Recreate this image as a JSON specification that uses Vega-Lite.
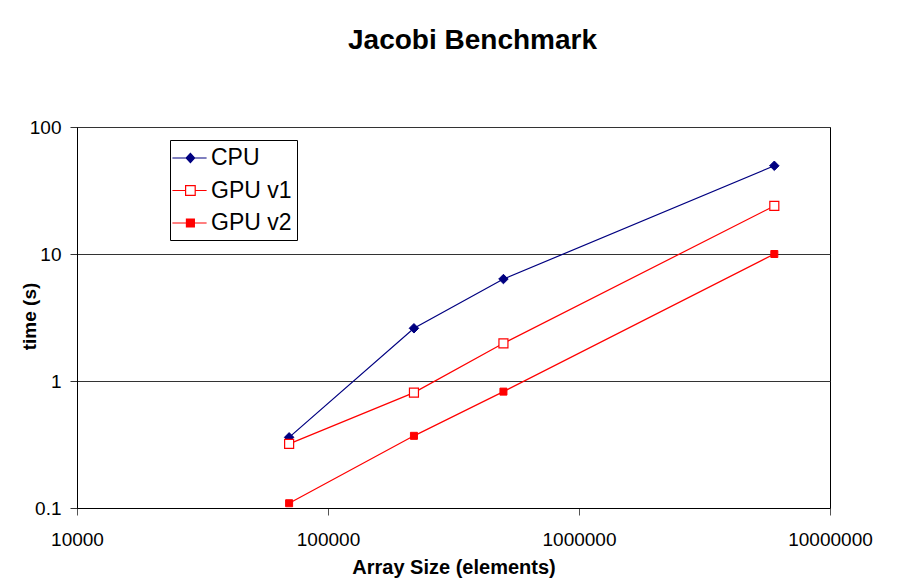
{
  "$schema": "https://vega.github.io/schema/vega-lite/v6.json",
  "width": 753,
  "height": 381,
  "autosize": {"type": "none"},
  "padding": {"left": 77, "top": 127, "right": 72, "bottom": 73},
  "background": "white",
  "title": {
    "text": "Jacobi Benchmark",
    "font": "Liberation Sans",
    "fontSize": 28,
    "fontWeight": "bold",
    "color": "black",
    "anchor": "middle",
    "frame": "group",
    "dx": 19,
    "baseline": "alphabetic",
    "offset": 41
  },
  "data": {
    "values": [
      {"series": "CPU", "size": 70000, "time": 0.36},
      {"series": "CPU", "size": 220000, "time": 2.6},
      {"series": "CPU", "size": 500000, "time": 6.35},
      {"series": "CPU", "size": 6000000, "time": 49.5},
      {"series": "GPU v1", "size": 70000, "time": 0.32},
      {"series": "GPU v1", "size": 220000, "time": 0.81},
      {"series": "GPU v1", "size": 500000, "time": 1.98},
      {"series": "GPU v1", "size": 6000000, "time": 23.9},
      {"series": "GPU v2", "size": 70000, "time": 0.109},
      {"series": "GPU v2", "size": 220000, "time": 0.37},
      {"series": "GPU v2", "size": 500000, "time": 0.825},
      {"series": "GPU v2", "size": 6000000, "time": 10.0}
    ]
  },
  "encoding": {
    "x": {
      "field": "size",
      "type": "quantitative",
      "scale": {"type": "log", "domain": [10000, 10000000], "nice": false},
      "axis": {
        "title": "Array Size (elements)",
        "values": [10000, 100000, 1000000, 10000000],
        "format": "d",
        "grid": false,
        "labelFont": "Liberation Sans",
        "labelFontSize": 19,
        "labelColor": "black",
        "labelBaseline": "alphabetic",
        "labelPadding": 30,
        "labelFlush": false,
        "labelOverlap": false,
        "tickSize": 7,
        "tickColor": "#555555",
        "domainColor": "black",
        "titleFont": "Liberation Sans",
        "titleFontSize": 20,
        "titleFontWeight": "bold",
        "titleColor": "black",
        "titleBaseline": "alphabetic",
        "titleY": 65
      }
    },
    "y": {
      "field": "time",
      "type": "quantitative",
      "scale": {"type": "log", "domain": [0.1, 100], "nice": false},
      "axis": {
        "title": "time (s)",
        "values": [0.1, 1, 10, 100],
        "format": "~g",
        "grid": true,
        "gridColor": "#333333",
        "gridWidth": 1,
        "labelFont": "Liberation Sans",
        "labelFontSize": 19,
        "labelColor": "black",
        "labelPadding": 9,
        "labelFlush": false,
        "labelOverlap": false,
        "tickSize": 7,
        "tickColor": "#333333",
        "domainColor": "black",
        "titleFont": "Liberation Sans",
        "titleFontSize": 19,
        "titleFontWeight": "bold",
        "titleColor": "black",
        "titleAngle": -90,
        "titleAlign": "center",
        "titleBaseline": "alphabetic",
        "titleX": -42,
        "titleY": 189
      }
    }
  },
  "layer": [
    {
      "mark": {"type": "line", "strokeWidth": 1.2},
      "encoding": {
        "color": {
          "field": "series",
          "type": "nominal",
          "scale": {"domain": ["CPU", "GPU v1", "GPU v2"], "range": ["#000080", "#FF0000", "#FF0000"]},
          "legend": {
            "title": null,
            "orient": "none",
            "legendX": 93,
            "legendY": 13,
            "padding": 5,
            "strokeColor": "black",
            "fillColor": "white",
            "symbolSize": 576,
            "symbolStrokeWidth": 1.2,
            "symbolOpacity": 1,
            "rowPadding": 7.5,
            "labelOffset": 10,
            "labelFont": "Liberation Sans",
            "labelFontSize": 23,
            "labelColor": "black"
          }
        }
      }
    },
    {
      "transform": [{"filter": "datum.series === 'CPU'"}],
      "mark": {"type": "point", "shape": "diamond", "fill": "#000080", "stroke": "#000080", "strokeWidth": 1, "size": 90, "opacity": 1, "fillOpacity": 1}
    },
    {
      "transform": [{"filter": "datum.series === 'GPU v1'"}],
      "mark": {"type": "point", "shape": "square", "fill": "#FFFFFF", "stroke": "#FF0000", "strokeWidth": 1.2, "size": 81, "opacity": 1, "fillOpacity": 1}
    },
    {
      "transform": [{"filter": "datum.series === 'GPU v2'"}],
      "mark": {"type": "point", "shape": "square", "fill": "#FF0000", "stroke": "#FF0000", "strokeWidth": 1, "size": 49, "opacity": 1, "fillOpacity": 1}
    },
    {
      "mark": {"type": "point", "opacity": 0, "strokeWidth": 1.2},
      "encoding": {
        "shape": {
          "field": "series",
          "type": "nominal",
          "scale": {
            "domain": ["CPU", "GPU v1", "GPU v2"],
            "range": [
              "M-1.3,0H1.55M-0.15,0L0.2,-0.38L0.55,0L0.2,0.38Z",
              "M-1.3,0H-0.2M0.6,0H1.55M-0.2,-0.4H0.6V0.4H-0.2Z",
              "M-1.3,0H1.55M-0.13,-0.33H0.53V0.33H-0.13Z"
            ]
          },
          "legend": {
            "title": null,
            "orient": "none",
            "legendX": 93,
            "legendY": 13,
            "padding": 5,
            "strokeColor": "black",
            "fillColor": "white",
            "symbolSize": 576,
            "symbolStrokeWidth": 1.2,
            "symbolOpacity": 1,
            "rowPadding": 7.5,
            "labelOffset": 10,
            "labelFont": "Liberation Sans",
            "labelFontSize": 23,
            "labelColor": "black"
          }
        },
        "fill": {
          "field": "series",
          "type": "nominal",
          "scale": {"domain": ["CPU", "GPU v1", "GPU v2"], "range": ["#000080", "#FFFFFF", "#FF0000"]},
          "legend": {
            "title": null,
            "orient": "none",
            "legendX": 93,
            "legendY": 13,
            "padding": 5,
            "strokeColor": "black",
            "fillColor": "white",
            "symbolSize": 576,
            "symbolStrokeWidth": 1.2,
            "symbolOpacity": 1,
            "rowPadding": 7.5,
            "labelOffset": 10,
            "labelFont": "Liberation Sans",
            "labelFontSize": 23,
            "labelColor": "black"
          }
        },
        "stroke": {
          "field": "series",
          "type": "nominal",
          "scale": {"domain": ["CPU", "GPU v1", "GPU v2"], "range": ["#000080", "#FF0000", "#FF0000"]},
          "legend": {
            "title": null,
            "orient": "none",
            "legendX": 93,
            "legendY": 13,
            "padding": 5,
            "strokeColor": "black",
            "fillColor": "white",
            "symbolSize": 576,
            "symbolStrokeWidth": 1.2,
            "symbolOpacity": 1,
            "rowPadding": 7.5,
            "labelOffset": 10,
            "labelFont": "Liberation Sans",
            "labelFontSize": 23,
            "labelColor": "black"
          }
        }
      }
    }
  ],
  "config": {
    "view": {"stroke": "black", "strokeWidth": 1}
  }
}
